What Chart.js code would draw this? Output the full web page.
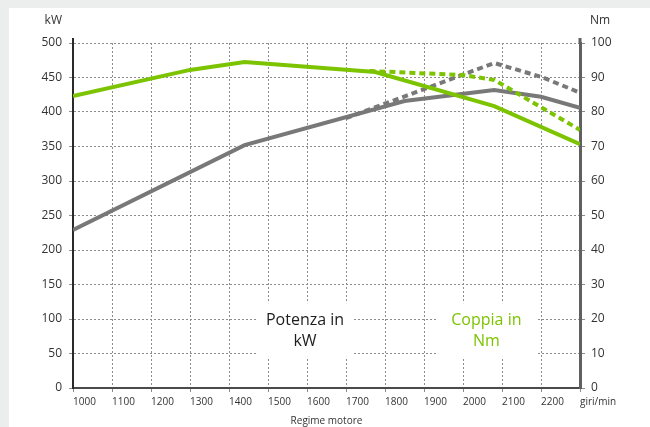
<!DOCTYPE html>
<html>
<head>
<meta charset="utf-8">
<script src="https://cdn.jsdelivr.net/npm/chart.js@4"></script>
<style>
  html, body { margin: 0; padding: 0; background: #eceeed; }
  #panel { position: absolute; left: 9px; top: 8px; right: 0; bottom: 0; background: #fff; }
  #wrap { position: absolute; left: 0; top: 0; width: 650px; height: 427px; }
</style>
</head>
<body>
<div id="panel"></div>
<div id="wrap"><canvas id="chart" width="650" height="427"></canvas></div>
<script>
// Potenza (kW) - solid and dotted grey
const potenzaRpm = [1000, 1440, 1850, 2080, 2200, 2300];
const potenzaKw = [229, 352, 416, 432, 422, 406];
const potenzaAltRpm = [1700, 2080, 2200, 2300];
const potenzaAltKw = [391, 471, 451, 428];

// Coppia (Nm) - solid and dotted green
const coppiaRpm = [1000, 1300, 1440, 1775, 2080, 2300];
const coppiaNm = [84.6, 92.2, 94.5, 91.6, 81.7, 70.7];
const coppiaAltRpm = [1760, 2000, 2080, 2200, 2300];
const coppiaAltNm = [91.9, 90.7, 89.3, 81.4, 74.8];

const GREEN = '#7cc300';
const GREY = '#787878';

const pts = (xs, ys) => xs.map((v, i) => ({ x: v, y: ys[i] }));

// text boxes inside the plot + axis titles
const notes = {
    id: 'notes',
    beforeDatasetsDraw(chart) {
        const { ctx, scales: { x, y } } = chart;
        ctx.save();
        ctx.fillStyle = '#fff';
        ctx.fillRect(x.getPixelForValue(1472), y.getPixelForValue(123), x.getPixelForValue(1718) - x.getPixelForValue(1472), y.getPixelForValue(45) - y.getPixelForValue(123));
        ctx.fillRect(x.getPixelForValue(1933), y.getPixelForValue(123), x.getPixelForValue(2190) - x.getPixelForValue(1933), y.getPixelForValue(45) - y.getPixelForValue(123));
        ctx.font = '16px "Open Sans"';
        ctx.textAlign = 'center';
        ctx.textBaseline = 'middle';
        ctx.fillStyle = '#1e1e1e';
        ctx.fillText('Potenza in', x.getPixelForValue(1595), y.getPixelForValue(98));
        ctx.fillText('kW', x.getPixelForValue(1595), y.getPixelForValue(68));
        ctx.fillStyle = GREEN;
        ctx.fillText('Coppia in', x.getPixelForValue(2060), y.getPixelForValue(98));
        ctx.fillText('Nm', x.getPixelForValue(2060), y.getPixelForValue(68));
        ctx.restore();
    },
    afterDraw(chart) {
        const { ctx, chartArea } = chart;
        ctx.save();
        // axes poke a little above the top gridline
        ctx.lineWidth = 2;
        ctx.strokeStyle = '#2a2a2a';
        ctx.beginPath();
        ctx.moveTo(chartArea.left, chartArea.top - 5);
        ctx.lineTo(chartArea.left, chartArea.top + 1);
        ctx.stroke();
        ctx.lineWidth = 3;
        ctx.strokeStyle = '#606060';
        ctx.beginPath();
        ctx.moveTo(chartArea.right, chartArea.top - 5);
        ctx.lineTo(chartArea.right, chartArea.top + 1);
        ctx.stroke();

        ctx.font = '12px "Open Sans"';
        ctx.fillStyle = '#333';
        ctx.textBaseline = 'middle';
        ctx.textAlign = 'right';
        ctx.fillText('kW', chartArea.left - 11, 21);
        ctx.textAlign = 'left';
        ctx.fillText('Nm', chartArea.right + 10, 21);
        ctx.restore();
    }
};

new Chart(document.getElementById('chart'), {
    type: 'line',
    data: {
        datasets: [
            {
                label: 'Coppia',
                data: pts(coppiaRpm, coppiaNm),
                yAxisID: 'y1',
                borderColor: GREEN,
                borderWidth: 4,
                pointRadius: 0
            },
            {
                label: 'Coppia 2',
                data: pts(coppiaAltRpm, coppiaAltNm),
                yAxisID: 'y1',
                borderColor: GREEN,
                borderWidth: 4,
                borderDash: [6, 4],
                pointRadius: 0
            },
            {
                label: 'Potenza 2',
                data: pts(potenzaAltRpm, potenzaAltKw),
                yAxisID: 'y',
                borderColor: GREY,
                borderWidth: 4,
                borderDash: [6, 4],
                pointRadius: 0
            },
            {
                label: 'Potenza',
                data: pts(potenzaRpm, potenzaKw),
                yAxisID: 'y',
                borderColor: GREY,
                borderWidth: 4,
                pointRadius: 0
            }
        ]
    },
    options: {
        responsive: false,
        animation: false,
        layout: { padding: { top: 43, left: 0, right: 0, bottom: 0 } },
        plugins: {
            legend: { display: false },
            tooltip: { enabled: false }
        },
        scales: {
            x: {
                type: 'linear',
                min: 1000,
                max: 2300,
                afterFit: (s) => { s.height = 39; },
                grid: { color: '#8c8c8c', tickLength: 4, tickColor: '#8c8c8c' },
                border: { color: '#4a4a4a', width: 2, dash: [2, 2] },
                ticks: {
                    stepSize: 100,
                    autoSkip: false,
                    maxRotation: 0,
                    align: 'start',
                    padding: 4,
                    color: '#333',
                    font: { family: 'Open Sans', size: 10 },
                    callback: (v) => v === 2300 ? 'giri/min' : v
                },
                title: {
                    display: true,
                    text: 'Regime motore',
                    color: '#333',
                    font: { family: 'Open Sans', size: 10 },
                    padding: { top: 0, bottom: 0 }
                }
            },
            y: {
                position: 'left',
                min: 0,
                max: 500,
                afterFit: (s) => { s.width = 73; },
                grid: { color: '#8c8c8c', tickLength: 4, tickColor: '#8c8c8c' },
                border: { color: '#2a2a2a', width: 2, dash: [2, 2] },
                ticks: {
                    stepSize: 50,
                    padding: 7,
                    color: '#333',
                    font: { family: 'Open Sans', size: 12 }
                }
            },
            y1: {
                position: 'right',
                min: 0,
                max: 100,
                afterFit: (s) => { s.width = 70; },
                grid: { drawOnChartArea: false, tickLength: 5, tickColor: '#8c8c8c' },
                border: { color: '#606060', width: 3, dash: [2, 2] },
                ticks: {
                    stepSize: 10,
                    padding: 6,
                    color: '#333',
                    font: { family: 'Open Sans', size: 12 }
                }
            }
        }
    },
    plugins: [notes]
});
</script>
</body>
</html>
